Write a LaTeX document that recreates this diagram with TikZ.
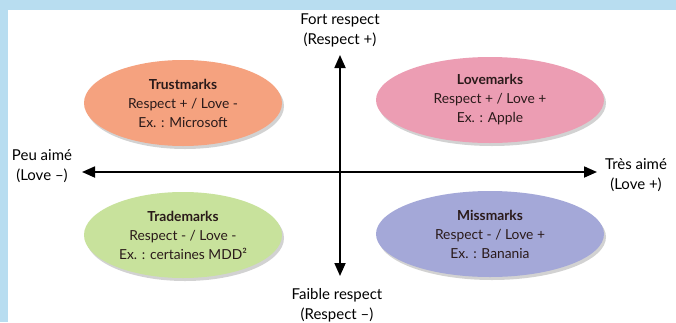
\documentclass[tikz,border=0pt]{standalone}
\usepackage{fontspec}
\setmainfont{Lato}
\usepackage{tikz}
\usetikzlibrary{shapes.geometric,arrows.meta,shadows,positioning}
\definecolor{framebg}{HTML}{B8DDF0}
\definecolor{trustorange}{HTML}{F5A27F}
\definecolor{lovepink}{HTML}{EC9DB3}
\definecolor{tradegreen}{HTML}{C8E29C}
\definecolor{missblue}{HTML}{A4A8D8}
\definecolor{inktext}{HTML}{2A1A1A}
\tikzset{
  brandzone/.style={ellipse,fill=#1,minimum width=200pt,minimum height=86pt,
    drop shadow={shadow xshift=2pt,shadow yshift=-3pt,opacity=0.35},
    align=center,text=inktext,font=\fontsize{13.8}{19}\selectfont},
  brandzone/.default={trustorange},
  axislabel/.style={align=center,text=black,font=\fontsize{15}{20}\selectfont},
  axisarrow/.style={{Triangle[length=13pt,width=11pt]}-{Triangle[length=13pt,width=11pt]},line width=1.8pt},
}

\begin{document}
\begin{tikzpicture}[x=1pt,y=-1pt]
  \useasboundingbox (0,0) rectangle (676,322);
  \fill[framebg] (0,0) rectangle (676,322);
  \fill[white] (8,10) rectangle (676,322);
  % quadrants
  \node[brandzone=trustorange,minimum width=198pt] (trust) at (183,103) {
    \textbf{Trustmarks}\\Respect + / Love -\\Ex. : Microsoft};
  \node[brandzone=lovepink,minimum width=228pt] (love) at (490,100) {
    \textbf{Lovemarks}\\Respect + / Love +\\Ex. : Apple};
  \node[brandzone=tradegreen,minimum width=198pt] (trade) at (183,235) {
    \textbf{Trademarks}\\Respect - / Love -\\Ex. : certaines MDD²};
  \node[brandzone=missblue,minimum width=228pt] (miss) at (490,234) {
    \textbf{Missmarks}\\Respect - / Love +\\Ex. : Banania};
  % axes
  \node[axislabel] (fort) at (340,30) {Fort respect\\(Respect +)};
  \node[axislabel] (faible) at (337,305) {Faible respect\\(Respect –)};
  \node[axislabel] (peu) at (42,166) {Peu aimé\\(Love –)};
  \node[axislabel] (tres) at (636,175) {Très aimé\\(Love +)};
  \coordinate (ytop) at (340,55);
  \coordinate (ybot) at (340,276);
  \coordinate (xleft) at (82,172);
  \coordinate (xright) at (597,172);
  \draw[axisarrow] (ybot) -- (ytop);
  \draw[axisarrow] (xleft) -- (xright);
\end{tikzpicture}
\end{document}
